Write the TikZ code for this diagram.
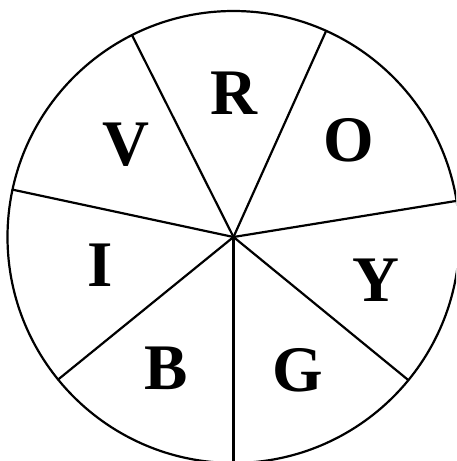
\documentclass[tikz,border=0pt]{standalone}
\usepackage{fontspec}
\setmainfont{Liberation Serif}
\begin{document}
\begin{tikzpicture}[x=1pt,y=-1pt,
  spoke/.style={line width=2.2pt,line cap=round},
  rim/.style={line width=2.2pt},
  letter/.style={inner sep=0pt,font=\fontsize{65}{65}\selectfont\bfseries}]
\useasboundingbox (0,0) rectangle (456,461);
\clip (0,0) rectangle (456,461);
\coordinate (c) at (233.5,237);
\draw[rim] (c) circle[radius=226];
\foreach \a/\n in {116.7/p1,65.8/p2,9.2/p3,-39.3/p4,-90/p5,-140.9/p6,167.9/p7}{
  \coordinate (\n) at ({233.5+226*cos(\a)},{237-226*sin(\a)});
  \draw[spoke] (c) -- (\n);
}
\node[letter] (R) at (234,93) {R};
\node[letter] (V) at (126,145) {V};
\node[letter] (O) at (349,140) {O};
\node[letter] (I) at (100,265) {I};
\node[letter] (Y) at (376,280) {Y};
\node[letter] (B) at (166,368) {B};
\node[letter] (G) at (298,370) {G};
\end{tikzpicture}
\end{document}
